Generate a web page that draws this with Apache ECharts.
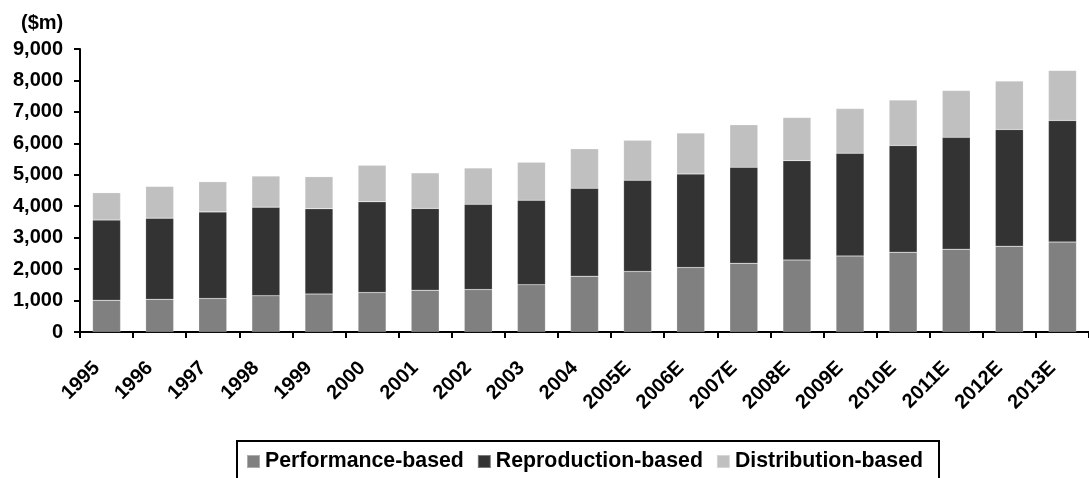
<!DOCTYPE html>
<html>
<head>
<meta charset="utf-8">
<script src="https://cdn.jsdelivr.net/npm/echarts@6/dist/echarts.min.js"></script>
<style>
html,body{margin:0;padding:0;background:#fff;}
#chart{width:1089px;height:478px;}
</style>
</head>
<body>
<div id="chart"></div>
<script>
const categories = ['1995','1996','1997','1998','1999','2000','2001','2002','2003','2004','2005E','2006E','2007E','2008E','2009E','2010E','2011E','2012E','2013E'];
const performanceBased = [1010,1040,1065,1155,1210,1255,1330,1350,1505,1775,1925,2050,2185,2290,2420,2540,2635,2730,2860];
const reproductionBased = [2550,2580,2755,2815,2710,2885,2600,2710,2685,2795,2900,2975,3055,3160,3265,3390,3555,3710,3865];
const distributionBased = [870,1010,960,990,1020,1160,1130,1155,1210,1255,1275,1305,1350,1375,1420,1445,1490,1540,1595];
const seriesNames = ['Performance-based','Reproduction-based','Distribution-based'];
const unitLabel = '($m)';

const FONT = '"Liberation Sans", Arial, sans-serif';
const colors = ['#808080','#333333','#c0c0c0'];

const chart = echarts.init(document.getElementById('chart'), null, {renderer:'canvas'});
const mk = (name, data, color) => ({
  name, type:'bar', stack:'total', data, barWidth:28,
  itemStyle:{color, borderColor:'rgba(255,255,255,0.35)', borderWidth:0.5},
  emphasis:{disabled:true}
});
chart.setOption({
  animation:false,
  title:{text:unitLabel,left:16,top:8,textStyle:{fontFamily:FONT,fontWeight:'bold',fontSize:20,color:'#000'}},
  grid:{left:80,top:49,width:1014,height:283,containLabel:false},
  graphic:[{type:'rect',shape:{x:237,y:441,width:702,height:50},style:{fill:'none',stroke:'#000',lineWidth:2},silent:true}],
  legend:{
    data:seriesNames, left:246, top:451, padding:[0,0,0,0],
    itemWidth:13, itemHeight:13, itemGap:13, icon:'rect',
    textStyle:{fontFamily:FONT,fontWeight:'bold',fontSize:21.3,color:'#000',padding:[0,0,0,0]}
  },
  xAxis:{
    type:'category', data:categories, boundaryGap:true,
    axisLine:{lineStyle:{color:'#000',width:2}},
    axisTick:{show:true,alignWithLabel:false,length:6,lineStyle:{color:'#000',width:2}},
    axisLabel:{rotate:45,margin:23,padding:[0,14,0,0],interval:0,fontFamily:FONT,fontWeight:'bold',fontSize:20,color:'#000'}
  },
  yAxis:{
    type:'value', min:0, max:9000, interval:1000,
    axisLine:{show:true,lineStyle:{color:'#000',width:2}},
    axisTick:{show:true,length:6,lineStyle:{color:'#000',width:2}},
    splitLine:{show:false},
    axisLabel:{margin:17,fontFamily:FONT,fontWeight:'bold',fontSize:20,color:'#000',
      formatter:v=>v.toLocaleString('en-US')}
  },
  series:[
    mk(seriesNames[0], performanceBased, colors[0]),
    mk(seriesNames[1], reproductionBased, colors[1]),
    mk(seriesNames[2], distributionBased, colors[2])
  ]
});
</script>
</body>
</html>
